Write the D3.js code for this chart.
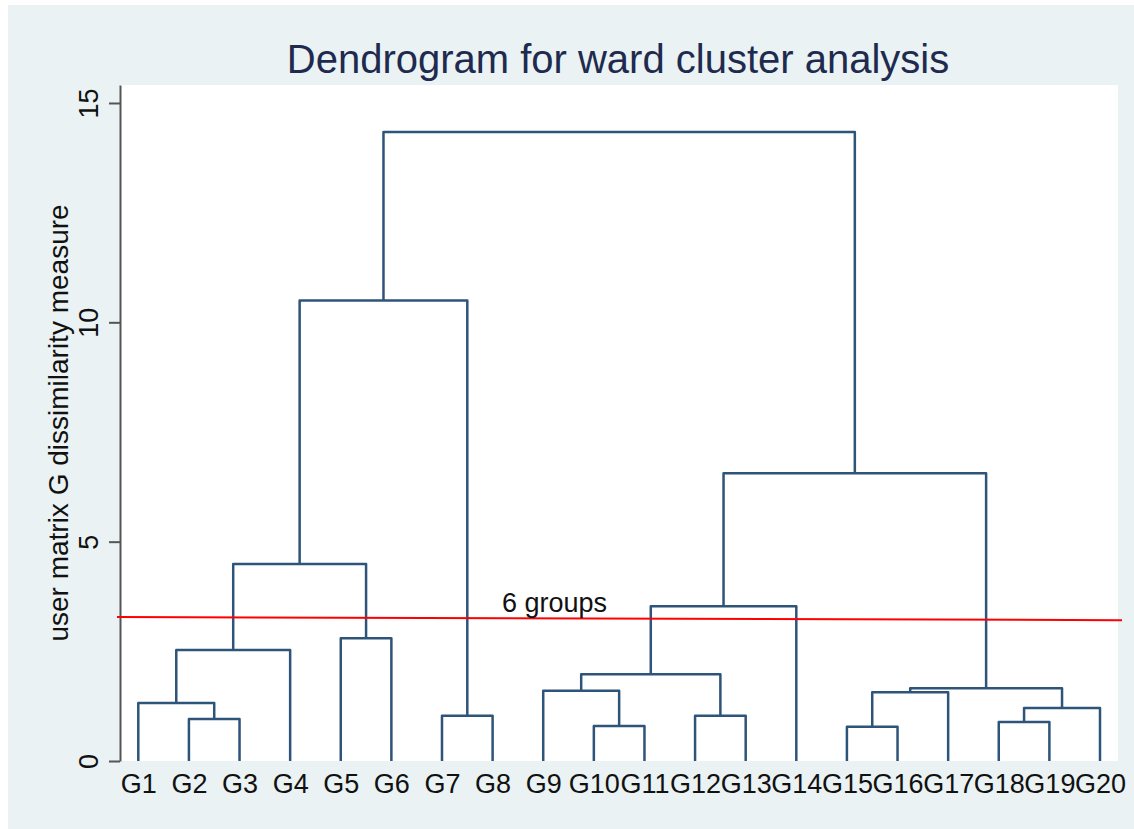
<!DOCTYPE html>
<html>
<head>
<meta charset="utf-8">
<script src="https://cdn.jsdelivr.net/npm/d3@7"></script>
<style>
  body { margin: 0; background: #ffffff; }
  text { font-family: "Liberation Sans", Arial, sans-serif; }
</style>
</head>
<body>
<div id="chart"></div>
<script>
// leaves in dendrogram order
const leaves = ['G1', 'G2', 'G3', 'G4', 'G5', 'G6', 'G7', 'G8', 'G9', 'G10',
  'G11', 'G12', 'G13', 'G14', 'G15', 'G16', 'G17', 'G18', 'G19', 'G20'];

// merges: [left, right, height]; numbers refer to earlier merges (index)
const merges = [
  ['G2', 'G3', 0.96],   // 0
  ['G1', 0, 1.32],      // 1
  [1, 'G4', 2.53],      // 2
  ['G5', 'G6', 2.80],   // 3
  [2, 3, 4.49],         // 4
  ['G7', 'G8', 1.03],   // 5
  [4, 5, 10.50],        // 6
  ['G10', 'G11', 0.80], // 7
  ['G9', 7, 1.60],      // 8
  ['G12', 'G13', 1.03], // 9
  [8, 9, 1.98],         // 10
  [10, 'G14', 3.53],    // 11
  ['G15', 'G16', 0.78], // 12
  [12, 'G17', 1.57],    // 13
  ['G18', 'G19', 0.89], // 14
  [14, 'G20', 1.21],    // 15
  [13, 15, 1.66],       // 16
  [11, 16, 6.56],       // 17
  [6, 17, 14.34]        // 18
];

const yTicks = [0, 5, 10, 15];
const cutLine = [3.28, 3.21];   // left end, right end
const cutLabel = '6 groups';

const width = 1134;
const height = 829;
const plot = { left: 120, right: 1118, top: 85, bottom: 761 };
const lineColor = '#2f5479';

const svg = d3.select('#chart').append('svg')
  .attr('width', width)
  .attr('height', height);

// graph region background
svg.append('rect')
  .attr('x', 8).attr('y', 5)
  .attr('width', width - 8).attr('height', height - 5)
  .attr('fill', '#eaf2f3');

// plot region
svg.append('rect')
  .attr('x', plot.left).attr('y', plot.top)
  .attr('width', plot.right - plot.left).attr('height', plot.bottom - plot.top)
  .attr('fill', '#ffffff');

const xScale = d3.scalePoint()
  .domain(leaves)
  .range([138.3, 1100]);

const yScale = d3.scaleLinear()
  .domain([0, 15.41])
  .range([plot.bottom, plot.top]);

// node positions
const pos = node => {
  if (typeof node === 'string') return { x: xScale(node), h: 0 };
  return nodes[node];
};
const nodes = [];
merges.forEach(([a, b, h]) => {
  const pa = pos(a), pb = pos(b);
  nodes.push({ x: (pa.x + pb.x) / 2, h: h, a: pa, b: pb });
});

// draw the links
svg.append('g')
  .selectAll('path')
  .data(nodes)
  .enter()
  .append('path')
  .attr('d', d => {
    const p = d3.path();
    p.moveTo(d.a.x, yScale(d.a.h));
    p.lineTo(d.a.x, yScale(d.h));
    p.lineTo(d.b.x, yScale(d.h));
    p.lineTo(d.b.x, yScale(d.b.h));
    return p.toString();
  })
  .attr('fill', 'none')
  .attr('stroke', lineColor)
  .attr('stroke-width', 2.5)
  .attr('stroke-linejoin', 'round');

// y axis
const yAxis = svg.append('g')
  .attr('transform', `translate(${plot.left}, 0)`)
  .call(d3.axisLeft(yScale).tickValues(yTicks).tickSize(11).tickSizeOuter(0));
yAxis.select('.domain').attr('stroke', '#555').attr('stroke-width', 2);
yAxis.selectAll('.tick line').attr('stroke', '#555').attr('stroke-width', 2);
yAxis.selectAll('.tick text')
  .attr('x', null).attr('dy', null)
  .attr('transform', 'translate(-22, 0) rotate(-90)')
  .attr('text-anchor', 'middle')
  .attr('font-size', 27)
  .attr('font-family', '"Liberation Sans", Arial, sans-serif')
  .attr('fill', '#111');

// x axis leaf labels
const xAxis = svg.append('g')
  .attr('transform', `translate(0, ${plot.bottom})`)
  .call(d3.axisBottom(xScale).tickSize(0));
xAxis.select('.domain').remove();
xAxis.selectAll('.tick text')
  .attr('y', 32).attr('dy', null)
  .attr('font-size', 27)
  .attr('font-family', '"Liberation Sans", Arial, sans-serif')
  .attr('fill', '#111');

// cut line
svg.append('line')
  .attr('x1', 117).attr('x2', 1122)
  .attr('y1', yScale(cutLine[0])).attr('y2', yScale(cutLine[1]))
  .attr('stroke', '#ff0000')
  .attr('stroke-width', 2);

svg.append('text')
  .attr('x', 502)
  .attr('y', 612)
  .attr('font-size', 27)
  .attr('fill', '#111')
  .text(cutLabel);

// y axis title
svg.append('text')
  .attr('transform', `translate(68, ${(plot.top + plot.bottom) / 2}) rotate(-90)`)
  .attr('text-anchor', 'middle')
  .attr('font-size', 28)
  .attr('fill', '#111')
  .text('user matrix G dissimilarity measure');

// title
svg.append('text')
  .attr('x', 618)
  .attr('y', 73)
  .attr('text-anchor', 'middle')
  .attr('font-size', 40)
  .attr('fill', '#1f2a4f')
  .text('Dendrogram for ward cluster analysis');
</script>
</body>
</html>
